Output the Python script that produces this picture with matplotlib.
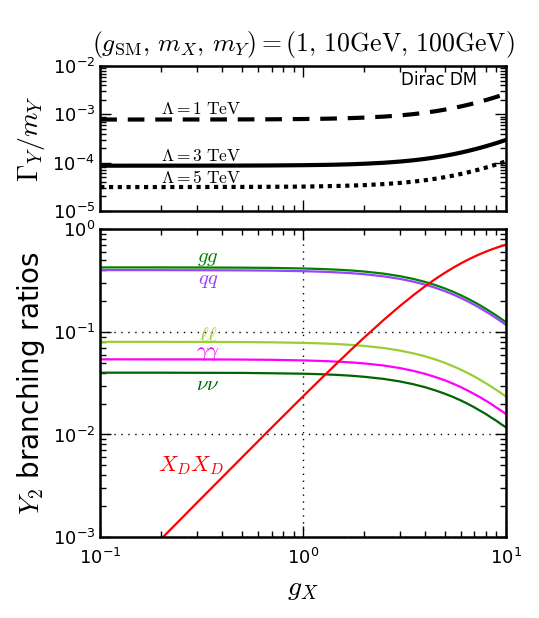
import matplotlib
matplotlib.use("Agg")
import matplotlib.pyplot as plt

plt.rcParams['mathtext.fontset'] = 'cm'
plt.rcParams['font.family'] = 'DejaVu Sans'

# g_X sample points
g_x = [0.1, 0.2, 0.3, 0.5, 0.7, 1.0, 1.25, 1.5, 1.75, 2.0, 2.5, 3.0, 3.5, 4.0, 4.5,
       5.0, 5.5, 6.0, 6.5, 7.0, 7.5, 8.0, 8.5, 9.0, 9.5, 10.0]

# total width / m_Y
width_L1 = [7.80e-4, 7.81e-4, 7.82e-4, 7.85e-4, 7.89e-4, 7.99e-4, 8.09e-4, 8.22e-4, 8.37e-4,
            8.55e-4, 8.97e-4, 9.48e-4, 1.009e-3, 1.080e-3, 1.159e-3, 1.248e-3, 1.346e-3,
            1.454e-3, 1.571e-3, 1.697e-3, 1.833e-3, 1.978e-3, 2.133e-3, 2.296e-3, 2.469e-3,
            2.652e-3]
width_L3 = [8.60e-5, 8.61e-5, 8.62e-5, 8.65e-5, 8.70e-5, 8.81e-5, 8.92e-5, 9.06e-5, 9.23e-5,
            9.43e-5, 9.89e-5, 1.046e-4, 1.113e-4, 1.190e-4, 1.278e-4, 1.376e-4, 1.484e-4,
            1.603e-4, 1.732e-4, 1.871e-4, 2.021e-4, 2.181e-4, 2.351e-4, 2.532e-4, 2.723e-4,
            2.924e-4]
width_L5 = [3.10e-5, 3.10e-5, 3.11e-5, 3.12e-5, 3.14e-5, 3.17e-5, 3.22e-5, 3.27e-5, 3.33e-5,
            3.40e-5, 3.57e-5, 3.77e-5, 4.01e-5, 4.29e-5, 4.61e-5, 4.96e-5, 5.35e-5,
            5.78e-5, 6.24e-5, 6.75e-5, 7.29e-5, 7.86e-5, 8.48e-5, 9.13e-5, 9.81e-5,
            1.054e-4]

# branching ratios
br_gg = [0.4249, 0.4246, 0.4241, 0.4225, 0.4201, 0.4150, 0.4096, 0.4032, 0.3959, 0.3878,
         0.3696, 0.3495, 0.3284, 0.3071, 0.2860, 0.2656, 0.2462, 0.2280, 0.2110, 0.1953,
         0.1809, 0.1676, 0.1554, 0.1444, 0.1342, 0.1250]
br_qq = [0.3999, 0.3996, 0.3991, 0.3976, 0.3953, 0.3906, 0.3855, 0.3795, 0.3726, 0.3650,
         0.3478, 0.3289, 0.3091, 0.2890, 0.2692, 0.2500, 0.2317, 0.2146, 0.1986, 0.1838,
         0.1702, 0.1577, 0.1463, 0.1359, 0.1263, 0.1176]
br_ll = [0.0800, 0.0799, 0.0798, 0.0795, 0.0791, 0.0781, 0.0771, 0.0759, 0.0745, 0.0730,
         0.0696, 0.0658, 0.0618, 0.0578, 0.0538, 0.0500, 0.0463, 0.0429, 0.0397, 0.0368,
         0.0340, 0.0315, 0.0293, 0.0272, 0.0253, 0.0235]
br_aa = [0.0540, 0.0539, 0.0539, 0.0537, 0.0534, 0.0527, 0.0520, 0.0512, 0.0503, 0.0493,
         0.0470, 0.0444, 0.0417, 0.0390, 0.0363, 0.0338, 0.0313, 0.0290, 0.0268, 0.0248,
         0.0230, 0.0213, 0.0198, 0.0183, 0.0171, 0.0159]
br_nn = [0.0400, 0.0400, 0.0399, 0.0398, 0.0395, 0.0391, 0.0386, 0.0380, 0.0373, 0.0365,
         0.0348, 0.0329, 0.0309, 0.0289, 0.0269, 0.0250, 0.0232, 0.0215, 0.0199, 0.0184,
         0.0170, 0.0158, 0.0146, 0.0136, 0.0126, 0.0118]
br_xx = [0.00024, 0.00096, 0.00216, 0.00596, 0.01163, 0.02344, 0.03614, 0.05123, 0.06847,
         0.0876, 0.1304, 0.1776, 0.2272, 0.2775, 0.3271, 0.375, 0.4206, 0.4635, 0.5035,
         0.5404, 0.5745, 0.6057, 0.6342, 0.6603, 0.6841, 0.7059]

fig = plt.figure(figsize=(5.39, 6.18), dpi=100)
ax1 = fig.add_axes([0.186, 0.659, 0.752, 0.234])
ax2 = fig.add_axes([0.186, 0.131, 0.752, 0.498])

# top panel
ax1.plot(g_x, width_L1, 'k', lw=3, dashes=(4, 2.6))
ax1.plot(g_x, width_L3, 'k', lw=3)
ax1.plot(g_x, width_L5, 'k', lw=3, dashes=(1, 1.1))
ax1.set_xscale('log')
ax1.set_yscale('log')
ax1.set_xlim(0.1, 10)
ax1.set_ylim(1e-5, 1e-2)
ax1.set_xticklabels([])
ax1.set_ylabel(r'$\Gamma_Y/m_Y$', fontsize=20)
ax1.text(0.2, 1.02e-3, r'$\Lambda=1\ \mathrm{TeV}$', fontsize=12.5)
ax1.text(0.2, 1.08e-4, r'$\Lambda=3\ \mathrm{TeV}$', fontsize=12.5)
ax1.text(0.2, 3.8e-5, r'$\Lambda=5\ \mathrm{TeV}$', fontsize=12.5)
ax1.text(0.93, 0.87, 'Dirac DM', transform=ax1.transAxes, ha='right', fontsize=12)
ax1.set_title(r'$(g_{\rm SM},\, m_X,\, m_Y)=(1,\, 10{\rm GeV},\, 100{\rm GeV})$',
              fontsize=18.5, pad=11)

# bottom panel
ax2.plot(g_x, br_gg, color='green', lw=1.6)
ax2.plot(g_x, br_qq, color='#9944ff', lw=1.6)
ax2.plot(g_x, br_ll, color='yellowgreen', lw=1.6)
ax2.plot(g_x, br_aa, color='magenta', lw=1.6)
ax2.plot(g_x, br_nn, color='darkgreen', lw=1.6)
ax2.plot(g_x, br_xx, color='red', lw=1.6)
ax2.set_xscale('log')
ax2.set_yscale('log')
ax2.set_xlim(0.1, 10)
ax2.set_ylim(1e-3, 1)
ax2.grid(True, which='major', color='k', lw=1, dashes=(1, 4))
ax2.set_xlabel(r'$g_X$', fontsize=20)
ax2.set_ylabel(r'$Y_2$ branching ratios', fontsize=20)

ax2.text(0.34, 0.53, r'$gg$', color='green', fontsize=15, ha='center', va='center')
ax2.text(0.34, 0.32, r'$qq$', color='#9944ff', fontsize=15, ha='center', va='center')
ax2.text(0.34, 0.093, r'$\ell\ell$', color='yellowgreen', fontsize=15, ha='center', va='center')
ax2.text(0.34, 0.062, r'$\gamma\gamma$', color='magenta', fontsize=15, ha='center', va='center')
ax2.text(0.34, 0.031, r'$\nu\nu$', color='darkgreen', fontsize=15, ha='center', va='center')
ax2.text(0.28, 0.005, r'$X_DX_D$', color='red', fontsize=16, ha='center', va='center')

for ax in (ax1, ax2):
    ax.tick_params(which='both', direction='in', top=True, right=True, labelsize=13)
    ax.tick_params(which='major', length=8, width=1)
    ax.tick_params(which='minor', length=4, width=1)
    for s in ax.spines.values():
        s.set_linewidth(1.8)
    ax.tick_params(axis='x', pad=8)

fig.savefig('out.png', dpi=100)
